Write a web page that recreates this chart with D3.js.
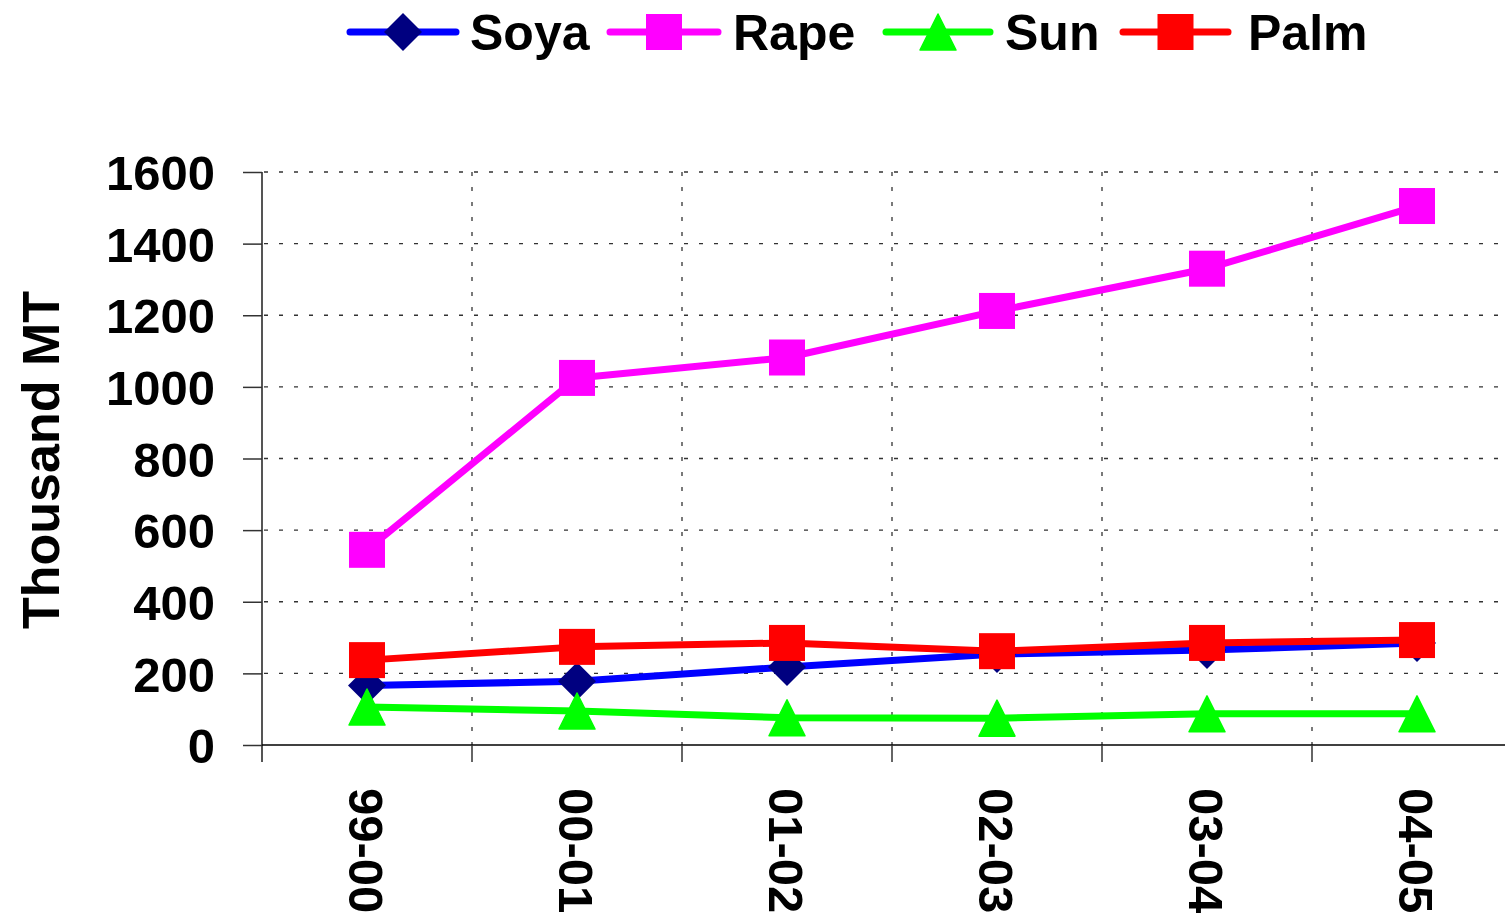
<!DOCTYPE html>
<html><head><meta charset="utf-8">
<script src="https://cdn.jsdelivr.net/npm/d3@7"></script>
<style>body{margin:0;background:#fff}svg{display:block}text{font-family:"Liberation Sans",Arial,sans-serif;font-weight:bold}</style>
</head><body>
<svg id="c" width="1505" height="923"></svg>
<script>
const categories = ["99-00","00-01","01-02","02-03","03-04","04-05"];
const soya = [166, 178, 218, 254, 265, 285];
const rape = [545, 1025, 1082, 1212, 1330, 1505];
const sun  = [106, 95, 76, 75, 87, 87];
const palm = [237, 274, 285, 262, 285, 293];
const yTicks = [0,200,400,600,800,1000,1200,1400,1600];
const seriesNames = ["Soya","Rape","Sun","Palm"];

const series = [
  {name:"Soya", values:soya, line:"#0000FF", fill:"#000080", shape:"diamond"},
  {name:"Rape", values:rape, line:"#FF00FF", fill:"#FF00FF", shape:"square"},
  {name:"Sun",  values:sun,  line:"#00FF00", fill:"#00FF00", shape:"triangle"},
  {name:"Palm", values:palm, line:"#FF0000", fill:"#FF0000", shape:"square"}
];

const svg = d3.select("#c");
const L=262, T=172, B=745;
const x = d3.scaleBand().domain(categories).range([L, L+210*6]);
const y = d3.scaleLinear().domain([0,1600]).range([B,T]);
const cx = d => x(d)+x.bandwidth()/2;

// grid
const g = svg.append("g");
g.selectAll(".hg").data(yTicks.filter(v=>v>0)).join("line")
  .attr("x1",L+2).attr("x2",1505).attr("y1",d=>y(d)).attr("y2",d=>y(d))
  .attr("stroke","#333").attr("stroke-width",1.3).attr("stroke-dasharray","4,11");
g.selectAll(".vg").data(categories.slice(1)).join("line")
  .attr("x1",d=>x(d)).attr("x2",d=>x(d)).attr("y1",T).attr("y2",B)
  .attr("stroke","#333").attr("stroke-width",1.3).attr("stroke-dasharray","4,11");

// y axis
const ya = d3.axisLeft(y).tickValues(yTicks).tickFormat(d3.format("d")).tickSize(19).tickPadding(28);
const yg = svg.append("g").attr("transform",`translate(${L},0)`).call(ya);
yg.select(".domain").attr("stroke","#555").attr("stroke-width",2).attr("d",`M0,${T}V${B+17}`);
yg.selectAll(".tick line").attr("stroke","#333").attr("stroke-width",1.5);
yg.selectAll(".tick text").attr("font-size",49).attr("fill","#000").attr("dy","0.36em")
  .style("font-family",'"Liberation Sans",Arial,sans-serif').style("font-weight","bold");

// x axis
svg.append("line").attr("x1",L).attr("x2",1505).attr("y1",B).attr("y2",B).attr("stroke","#000").attr("stroke-width",1.5);
svg.selectAll(".xt").data(categories.slice(1)).join("line")
  .attr("x1",d=>x(d)).attr("x2",d=>x(d)).attr("y1",B).attr("y2",B+17)
  .attr("stroke","#333").attr("stroke-width",1.5);
svg.selectAll(".xl").data(categories).join("text")
  .attr("transform",d=>`translate(${cx(d)},788) rotate(90)`)
  .attr("dy","0.36em").attr("font-size",49).attr("text-anchor","start").text(d=>d);

// y label
svg.append("text").attr("transform","translate(40,460) rotate(-90)").attr("text-anchor","middle")
  .attr("dy","0.36em").attr("font-size",52).text("Thousand MT");

function marker(sel, shape, fill){
  if(shape==="square") sel.append("rect").attr("x",-18).attr("y",-18).attr("width",36).attr("height",36).attr("fill",fill);
  else if(shape==="diamond") sel.append("path").attr("d","M0,-19L19,0L0,19L-19,0Z").attr("fill",fill);
  else sel.append("path").attr("d","M0,-18L18,18L-18,18Z").attr("fill",fill).attr("stroke",fill).attr("stroke-width",1.5).attr("stroke-linejoin","round");
}

const line = d3.line().x((d,i)=>cx(categories[i])).y(d=>y(d));
series.forEach(s=>{
  svg.append("path").attr("d",line(s.values)).attr("fill","none").attr("stroke",s.line).attr("stroke-width",7).attr("stroke-linejoin","round");
  s.values.forEach((v,i)=>{
    const m = svg.append("g").attr("transform",`translate(${cx(categories[i])},${y(v)})`);
    marker(m, s.shape, s.fill);
  });
});

// legend
const legX0 = [350, 610, 886, 1123];
const legX1 = [456, 718, 990, 1228];
const legTx = [470, 733, 1005, 1248];
series.forEach((s,i)=>{
  const lg = svg.append("g").attr("transform",`translate(0,32)`);
  lg.append("line").attr("x1",legX0[i]).attr("x2",legX1[i]).attr("stroke",s.line).attr("stroke-width",7).attr("stroke-linecap","round");
  const m = lg.append("g").attr("transform",`translate(${(legX0[i]+legX1[i])/2},0)`);
  marker(m, s.shape, s.fill);
  lg.append("text").attr("x",legTx[i]).attr("dy","0.36em").attr("font-size",50).text(seriesNames[i]);
});
</script>
</body></html>
